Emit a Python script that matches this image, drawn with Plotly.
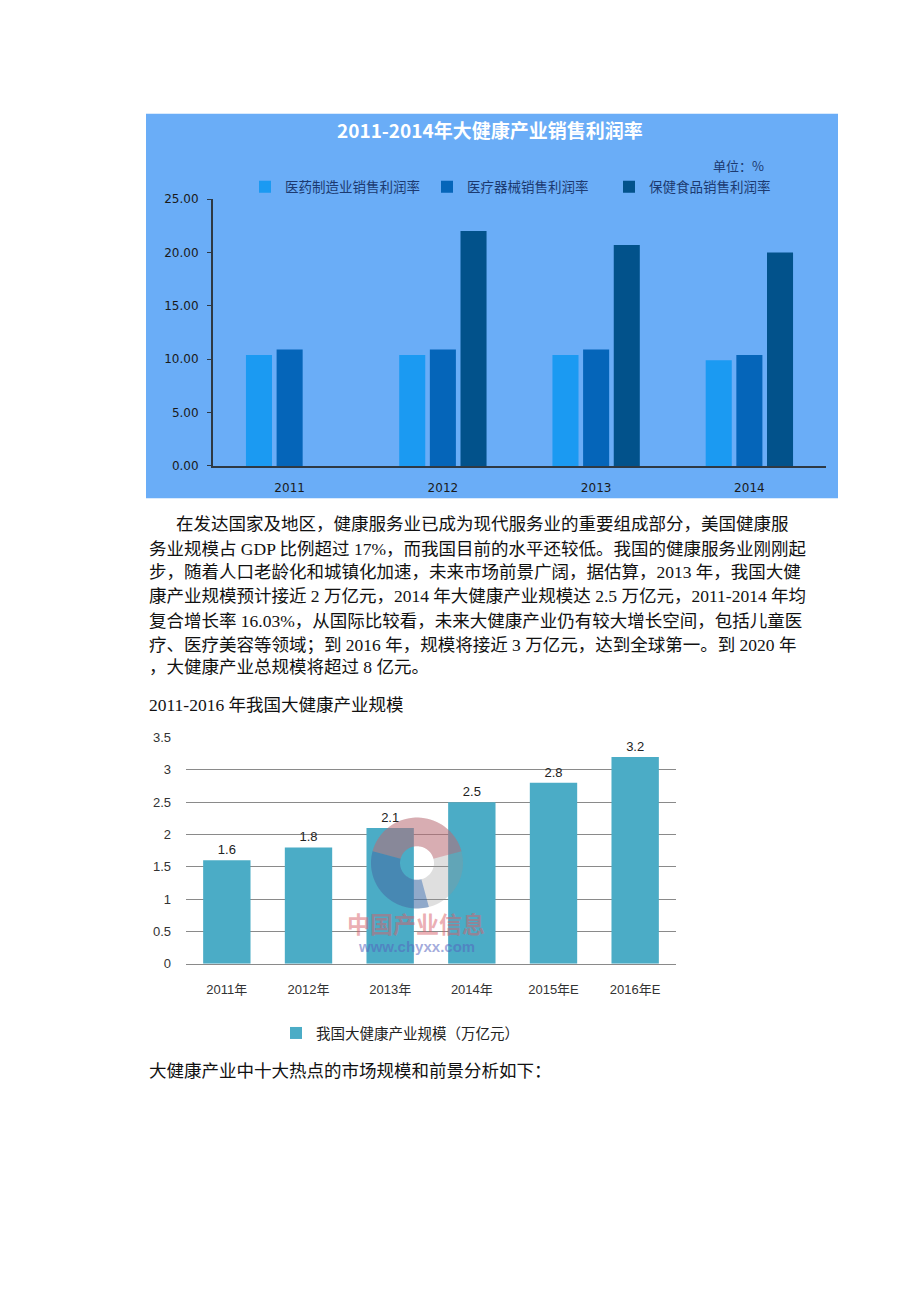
import numpy as np
import plotly.graph_objects as go

W, H = 920, 1302
def px(x): return x / W
def py(y): return 1 - y / H

# ---------------- data: chart 1 ----------------
years1 = ["2011", "2012", "2013", "2014"]
pharma = [10.4, 10.4, 10.4, 9.9]
device = [10.9, 10.9, 10.9, 10.4]
health_food = [None, 22.0, 20.7, 20.0]
series1_names = ["医药制造业销售利润率", "医疗器械销售利润率", "保健食品销售利润率"]
series1_colors = ["#1b9af2", "#0565b9", "#02528b"]
title1 = "2011-2014年大健康产业销售利润率"
unit1 = "单位：%"

# ---------------- data: chart 2 ----------------
years2 = ["2011年", "2012年", "2013年", "2014年", "2015年E", "2016年E"]
scale = [1.6, 1.8, 2.1, 2.5, 2.8, 3.2]
series2_name = "我国大健康产业规模（万亿元）"
title2 = "2011-2016 年我国大健康产业规模"

para_lines = [
    "在发达国家及地区，健康服务业已成为现代服务业的重要组成部分，美国健康服",
    "务业规模占 GDP 比例超过 17%，而我国目前的水平还较低。我国的健康服务业刚刚起",
    "步，随着人口老龄化和城镇化加速，未来市场前景广阔，据估算，2013 年，我国大健",
    "康产业规模预计接近 2 万亿元，2014 年大健康产业规模达 2.5 万亿元，2011-2014 年均",
    "复合增长率 16.03%，从国际比较看，未来大健康产业仍有较大增长空间，包括儿童医",
    "疗、医疗美容等领域；到 2016 年，规模将接近 3 万亿元，达到全球第一。到 2020 年",
    "，大健康产业总规模将超过 8 亿元。",
]
closing_line = "大健康产业中十大热点的市场规模和前景分析如下："

SERIF = "Liberation Serif, Noto Sans CJK SC, serif"
SANS = "Liberation Sans, Noto Sans CJK SC, sans-serif"
AXC = "#2e3944"

fig = go.Figure()
for name, vals, col in zip(series1_names, [pharma, device, health_food], series1_colors):
    fig.add_trace(go.Bar(x=years1, y=vals, name=name, marker_color=col,
                         marker_line_width=0, xaxis="x", yaxis="y", legend="legend"))

fig.add_trace(go.Bar(x=years2, y=scale, name=series2_name, marker_color="#4bacc6",
                     marker_line_width=0, width=0.58,
                     text=[f"{v:.1f}" for v in scale], textposition="outside",
                     textfont=dict(family=SANS, size=13, color="#222222"),
                     cliponaxis=False, xaxis="x2", yaxis="y2", legend="legend2"))

shapes = [dict(type="rect", xref="paper", yref="paper", x0=px(146), x1=px(838),
               y0=py(497), y1=py(108), fillcolor="#6aadf7", line_width=0, layer="below")]

# watermark logo (decoration)
def sector(cx, cy, R, r, a0, a1, n=48):
    a = np.radians(np.linspace(a0, a1, n))
    outer = [(cx + R * np.cos(t), cy - R * np.sin(t)) for t in a]
    inner = [(cx + r * np.cos(t), cy - r * np.sin(t)) for t in a[::-1]]
    pts = outer + inner
    return "M " + " L ".join(f"{px(x):.5f},{py(y):.5f}" for x, y in pts) + " Z"

shapes.append(dict(type="path", xref="paper", yref="paper", path=sector(417, 866, 46, 17, 0, 360, 90),
                   fillcolor="rgba(150,150,150,0.30)", line_width=0, layer="above"))
shapes.append(dict(type="path", xref="paper", yref="paper", path=sector(417, 866, 46, 17, 15, 165),
                   fillcolor="rgba(205,85,100,0.36)", line_width=0, layer="above"))
shapes.append(dict(type="path", xref="paper", yref="paper", path=sector(417, 866, 46, 17, 165, 285),
                   fillcolor="rgba(35,95,175,0.42)", line_width=0, layer="above"))

ann = []
ann.append(dict(text=f"<b>{title1}</b>", x=px(490), y=py(124), xref="paper", yref="paper",
                showarrow=False, xanchor="center", yanchor="middle",
                font=dict(family="Noto Sans CJK SC, sans-serif", size=19, color="white")))
ann.append(dict(text=unit1, x=px(766), y=py(160), xref="paper", yref="paper",
                showarrow=False, xanchor="right", yanchor="middle",
                font=dict(family="Noto Sans CJK SC, sans-serif", size=13, color="#1c3a70")))

line_y = [523, 548, 572, 596, 621, 645, 668]
for i, (t, yy) in enumerate(zip(para_lines, line_y)):
    ann.append(dict(text=t, x=px(174 if i == 0 else 147), y=py(yy), xref="paper", yref="paper",
                    showarrow=False, xanchor="left", yanchor="middle",
                    font=dict(family=SERIF, size=17.5, color="#111111")))
ann.append(dict(text=title2, x=px(147), y=py(706), xref="paper", yref="paper",
                showarrow=False, xanchor="left", yanchor="middle",
                font=dict(family=SERIF, size=17.5, color="#111111")))
ann.append(dict(text=closing_line, x=px(147), y=py(1076), xref="paper", yref="paper",
                showarrow=False, xanchor="left", yanchor="middle",
                font=dict(family=SERIF, size=17.5, color="#111111")))
# chart 2 watermark text
ann.append(dict(text="<b>中国产业信息</b>", x=px(416), y=py(927), xref="paper", yref="paper",
                showarrow=False, xanchor="center", yanchor="middle",
                font=dict(family="Noto Sans CJK SC, sans-serif", size=23, color="rgba(215,95,105,0.5)")))
ann.append(dict(text="<b>www.chyxx.com</b>", x=px(416), y=py(950), xref="paper", yref="paper",
                showarrow=False, xanchor="center", yanchor="middle",
                font=dict(family="Liberation Sans, sans-serif", size=15, color="rgba(85,100,190,0.55)")))

fig.update_layout(
    width=W, height=H, margin=dict(l=0, r=0, t=0, b=0),
    paper_bgcolor="white", plot_bgcolor="rgba(0,0,0,0)",
    barmode="group", bargap=0.4, bargroupgap=0.15,
    showlegend=True,
    xaxis=dict(domain=[px(213), px(826)], anchor="y", type="category",
               showline=True, linecolor=AXC, linewidth=2, showgrid=False, ticks="",
               tickfont=dict(family="DejaVu Sans", size=12, color="#1a1a1a"),
               ticklabelstandoff=10),
    yaxis=dict(domain=[py(464.3), py(194.3)], anchor="x", range=[0, 25], dtick=5,
               tickformat=".2f", showline=True, linecolor=AXC, linewidth=2,
               ticks="outside", ticklen=4, tickcolor=AXC, showgrid=False, zeroline=False,
               tickfont=dict(family="DejaVu Sans", size=12, color="#1a1a1a"),
               ticklabelstandoff=6),
    xaxis2=dict(domain=[px(186), px(676)], anchor="y2", type="category",
                showline=True, linecolor="#8a8a8a", linewidth=1, showgrid=False, ticks="",
                tickfont=dict(family=SANS, size=13, color="#333333"),
                ticklabelstandoff=14),
    yaxis2=dict(domain=[py(968), py(739)], anchor="x2", range=[0, 3.5], dtick=0.5,
                showline=False, showgrid=True, gridcolor="#8a8a8a", gridwidth=1,
                zeroline=False, ticks="",
                tickfont=dict(family=SANS, size=13, color="#333333"),
                ticklabelstandoff=14),
    legend=dict(orientation="h", x=px(245), y=py(182), xanchor="left", yanchor="middle",
                bgcolor="rgba(0,0,0,0)", entrywidth=137, entrywidthmode="pixels",
                font=dict(family="Noto Sans CJK SC, sans-serif", size=13.5, color="#1c3a70"),
                traceorder="normal"),
    legend2=dict(orientation="h", x=px(276), y=py(1038), xanchor="left", yanchor="middle",
                 bgcolor="rgba(0,0,0,0)",
                 font=dict(family="Noto Sans CJK SC, sans-serif", size=14.5, color="#222222")),
    shapes=shapes, annotations=ann,
)

fig.write_html("out.html")
